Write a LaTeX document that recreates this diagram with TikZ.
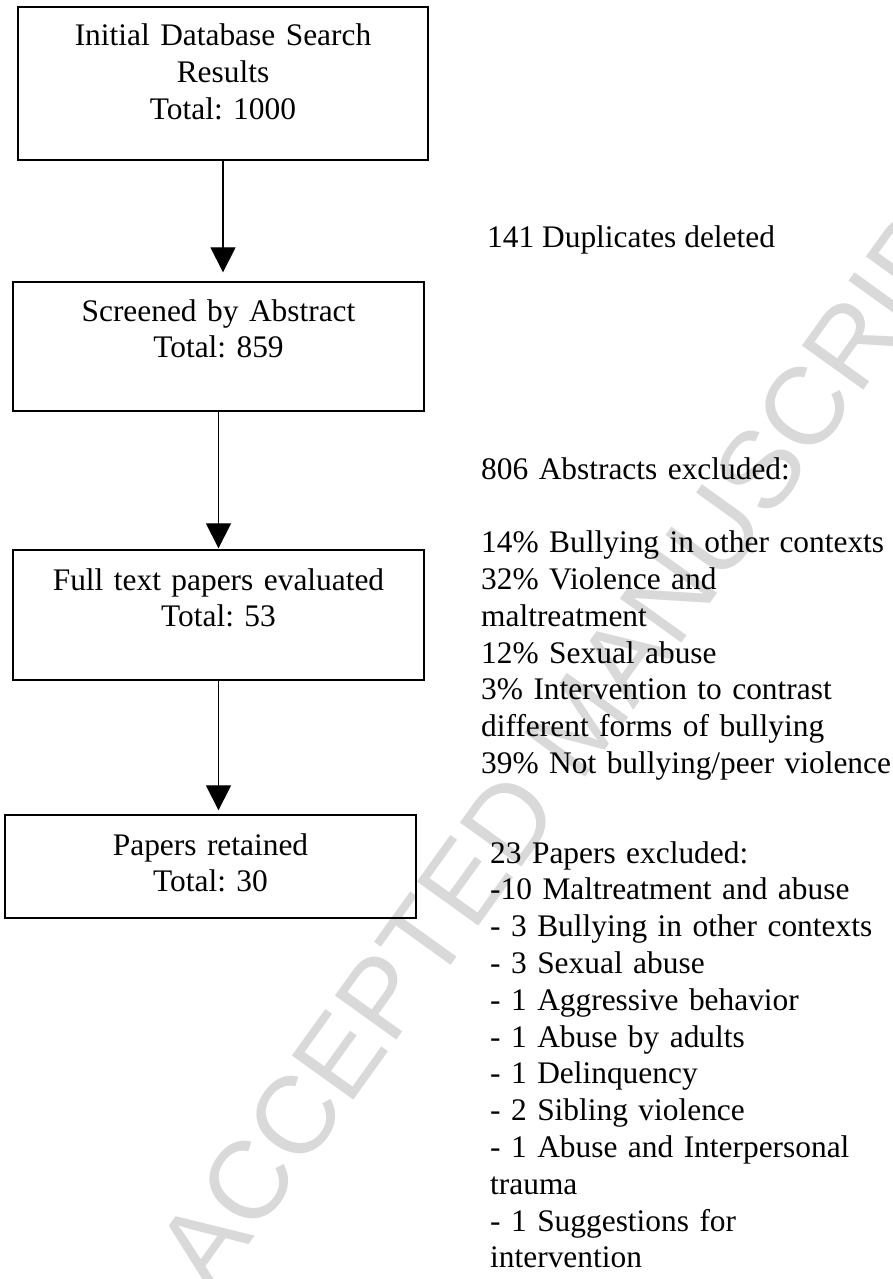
\documentclass[tikz,border=0pt]{standalone}
\usepackage{fontspec}
\setmainfont{Liberation Serif}
\newfontfamily\markfont{Liberation Sans}
\usetikzlibrary{arrows.meta}
\frenchspacing
\tikzset{
    stagebox/.style={draw, line width=1.3pt, inner sep=0pt, align=center, anchor=base},
    sidenote/.style={inner sep=0pt, anchor=base west, align=left},
    flowarrow/.style={-{Triangle[width=25pt,length=25pt]}, line width=1.2pt},
}
\begin{document}
\begin{tikzpicture}[x=1pt, y=-1pt, font=\fontsize{31.4}{36.8}\selectfont]
        \useasboundingbox (0,0) rectangle (893,1279);
        % watermark
        \node[rotate=54.3, text=black!15, inner sep=0pt, font=\markfont\fontsize{110}{110}\selectfont] (mark) at (578,723) {ACCEPTED MANUSCRIPT};
        % stages
        \node[stagebox, text width=410pt, text height=39pt, text depth=114pt] (search) at (223,46) {Initial Database Search\\Results\\Total: 1000};
        \node[stagebox, text width=411pt, text height=39pt, text depth=90pt] (screen) at (218.5,321) {Screened by Abstract\\Total: 859};
        \node[stagebox, text width=411pt, text height=40pt, text depth=90pt] (fulltext) at (218.5,590) {Full text papers evaluated\\Total: 53};
        \node[stagebox, text width=411pt, text height=40pt, text depth=63pt] (retained) at (210.5,855) {Papers retained\\Total: 30};
        \draw[flowarrow, shorten >=9pt] (search.south) -- (search.south |- screen.north);
        \draw[flowarrow, shorten >=1pt] (screen.south) -- (fulltext.north);
        \draw[flowarrow, shorten >=4pt] (fulltext.south) -- (fulltext.south |- retained.north);
        % exclusions
        \node[sidenote] (dups) at (487,247) {141 Duplicates deleted};
        \node[sidenote, text width=420pt] (absout) at (481,479) {806 Abstracts excluded:\\[36.8pt]
            14\% Bullying in other contexts\\32\% Violence and\\maltreatment\\12\% Sexual abuse\\
            3\% Intervention to contrast\\different forms of bullying\\39\% Not bullying/peer violence};
        \node[sidenote, text width=400pt] (paperout) at (490,863) {23 Papers excluded:\\-10 Maltreatment and abuse\\
            - 3 Bullying in other contexts\\- 3 Sexual abuse\\- 1 Aggressive behavior\\- 1 Abuse by adults\\
            - 1 Delinquency\\- 2 Sibling violence\\- 1 Abuse and Interpersonal\\trauma\\- 1 Suggestions for\\intervention};
    \end{tikzpicture}
\end{document}
